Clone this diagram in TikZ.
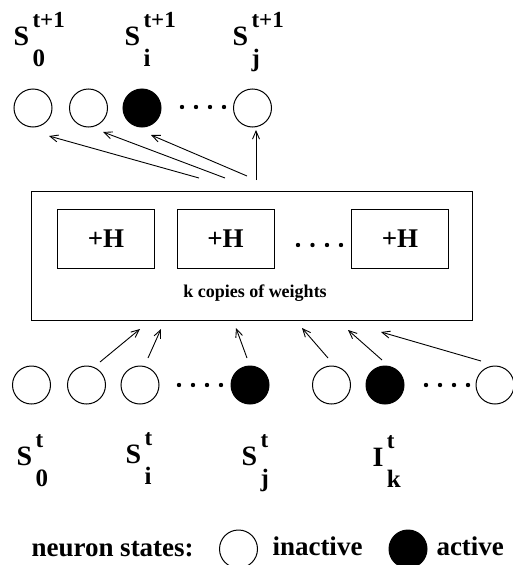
\documentclass[tikz,border=0pt]{standalone}
\usepackage{fontspec}
\setmainfont{Liberation Serif}
\usetikzlibrary{arrows.meta}
\newcommand\slab[3]{\fontsize{28}{28}\selectfont #1\kern3.5pt\makebox[0pt][l]{\raisebox{18pt}{\fontsize{23}{23}\selectfont #2}}\raisebox{-21pt}{\fontsize{25}{25}\selectfont #3}}
\begin{document}
\begin{tikzpicture}[x=1pt,y=-1pt,line width=1pt,
  neuron/.style={circle,draw,minimum size=38pt,inner sep=0pt},
  act/.style={neuron,fill=black},
  hbox/.style={draw,minimum width=97pt,minimum height=59pt,inner sep=0pt,font=\fontsize{27}{27}\selectfont\bfseries},
  arr/.style={-{Straight Barb[length=8pt,width=7pt]},line width=0.9pt},
  lab/.style={anchor=base west,inner sep=0pt,font=\bfseries},
  dotm/.style={fill=black}]
\useasboundingbox (0,0) rectangle (513,565);
% top labels
\node[lab] (l0) at (13,45) {\slab{S}{t+1}{0}};
\node[lab] (li) at (124,45) {\slab{S}{t+1}{i}};
\node[lab] (lj) at (232,45) {\slab{S}{t+1}{j}};
% top neurons
\node[neuron] (o0) at (33,108) {};
\node[neuron] (o1) at (88.5,108) {};
\node[act] (oi) at (142,108) {};
\node[neuron] (oj) at (252.5,108) {};
\foreach \x in {182,196,210,224} \fill[dotm] (\x,107) circle (2.2pt);
% box
\node[draw,minimum width=441pt,minimum height=129pt,inner sep=0pt] (box) at (251.5,255.5) {};
\node[hbox] (h1) at (106,238.5) {+H};
\node[hbox] (h2) at (225.5,238.5) {+H};
\node[hbox] (h3) at (400,238.5) {+H};
\foreach \x in {298,312.5,327,341} \fill[dotm] (\x,245) circle (2.2pt);
\node[font=\fontsize{18}{18}\selectfont\bfseries,inner sep=0pt] (kc) at (255,293) {k copies of weights};
% top arrows
\coordinate (a1s) at (199,178); \coordinate (a1e) at (49,136);
\coordinate (a2s) at (225,178); \coordinate (a2e) at (103,132);
\coordinate (a3s) at (247,176); \coordinate (a3e) at (151,135);
\coordinate (a4s) at (256,180); \coordinate (a4e) at (256,130);
\draw[arr] (a1s) -- (a1e);
\draw[arr] (a2s) -- (a2e);
\draw[arr] (a3s) -- (a3e);
\draw[arr] (a4s) -- (a4e);
% bottom neurons
\node[neuron] (i0) at (31.5,385) {};
\node[neuron] (i1) at (86.5,385) {};
\node[neuron] (i2) at (140,385) {};
\foreach \x in {179,193,207,221} \fill[dotm] (\x,385) circle (2.2pt);
\node[act] (ij) at (250,385) {};
\node[neuron] (i5) at (331.5,385) {};
\node[act] (ik) at (385,385) {};
\foreach \x in {426,440,454,468} \fill[dotm] (\x,385) circle (2.2pt);
\node[neuron] (in) at (495,385) {};
% bottom arrows
\coordinate (b1s) at (100,362); \coordinate (b1e) at (140,329);
\coordinate (b2s) at (148,358); \coordinate (b2e) at (161,329);
\coordinate (b3s) at (247,358); \coordinate (b3e) at (236,328);
\coordinate (b4s) at (328,358); \coordinate (b4e) at (302,328);
\coordinate (b5s) at (382,360); \coordinate (b5e) at (348,330);
\coordinate (b6s) at (481,361); \coordinate (b6e) at (381,332);
\draw[arr] (b1s) -- (b1e);
\draw[arr] (b2s) -- (b2e);
\draw[arr] (b3s) -- (b3e);
\draw[arr] (b4s) -- (b4e);
\draw[arr] (b5s) -- (b5e);
\draw[arr] (b6s) -- (b6e);
% bottom labels
\node[lab] (m0) at (16,465) {\slab{S}{t}{0}};
\node[lab] (mi) at (125,463) {\slab{S}{t}{i}};
\node[lab] (mj) at (241,465) {\slab{S}{t}{j}};
\node[lab] (mk) at (372,466) {\slab{I}{t}{k}};
% legend
\node[lab,font=\fontsize{27}{27}\selectfont\bfseries] (ns) at (31,556) {neuron states:};
\node[neuron] (lg1) at (238.5,549) {};
\node[lab,font=\fontsize{27}{27}\selectfont\bfseries] (tin) at (272,555) {inactive};
\node[act] (lg2) at (408,549) {};
\node[lab,font=\fontsize{27}{27}\selectfont\bfseries] (tac) at (436,555) {active};
\end{tikzpicture}
\end{document}
